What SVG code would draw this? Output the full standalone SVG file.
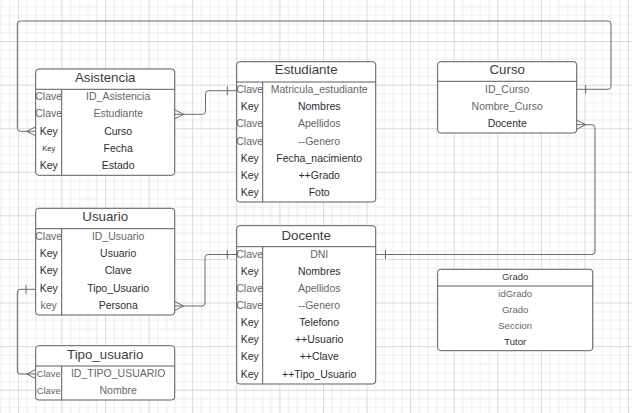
<svg xmlns="http://www.w3.org/2000/svg" width="632" height="413" viewBox="0 0 632 413">
<style>
.box{fill:#fff;stroke:#5c5c5c;stroke-width:1}
.div{stroke:#5c5c5c;stroke-width:1}
.t{font-family:"Liberation Sans",Arial,sans-serif;font-size:13.3px;fill:#3d3d3d;text-anchor:middle}
.r{font-family:"Liberation Sans",Arial,sans-serif;font-size:10.5px;text-anchor:middle}
.g{fill:#666}
.d{fill:#2e2e2e}
.gt{font-size:9.5px}
.conn{fill:none;stroke:#6a6a6a;stroke-width:1}
</style>
<defs>
<pattern id="grid" patternUnits="userSpaceOnUse" x="17.9" y="-2.5" width="43.58" height="43.58">
<path d="M9.22,0V43.58M17.93,0V43.58M26.65,0V43.58M35.36,0V43.58M0,9.22H43.58M0,17.93H43.58M0,26.65H43.58M0,35.36H43.58" stroke="#ececec" stroke-width="1"/>
<path d="M0.5,0V43.58M0,0.5H43.58" stroke="#d9d9d9" stroke-width="1"/>
</pattern>
</defs>
<rect width="632" height="413" fill="#fff"/>
<rect width="632" height="413" fill="url(#grid)"/>

<g id="connectors" class="conn">
<path d="M35.7,131.3 H20.3 Q17.3,131.3 17.3,128.3 V24 Q17.3,21 20.3,21 H608 Q611,21 611,24 V86.3 Q611,89.3 608,89.3 H576.7"/>
<path d="M26.7,131.3 L35.7,126.8 M26.7,131.3 L35.7,135.8 M585.7,85 V93.6"/>
<path d="M174.7,114.3 H202.5 Q205.5,114.3 205.5,111.3 V93.7 Q205.5,90.7 208.5,90.7 H236.7"/>
<path d="M183.7,114.3 L174.7,109.8 M183.7,114.3 L174.7,118.8 M227.3,86.2 V95.2"/>
<path d="M576.7,124.7 H592 Q595,124.7 595,127.7 V251.5 Q595,254.5 592,254.5 H375.7"/>
<path d="M585.7,124.7 L576.7,120.2 M585.7,124.7 L576.7,129.2 M385.5,250 V259"/>
<path d="M174.7,306 H202 Q205,306 205,303 V257.5 Q205,254.5 208,254.5 H236.7"/>
<path d="M183.7,306 L174.7,301.5 M183.7,306 L174.7,310.5 M227.3,250 V259"/>
<path d="M35.7,289.3 H20.3 Q17.3,289.3 17.3,292.3 V371 Q17.3,374 20.3,374 H35.7"/>
<path d="M26,284.8 V293.8 M26.7,374 L35.7,369.5 M26.7,374 L35.7,378.5"/>
</g>

<g id="asistencia">
<rect class="box" x="35.7" y="69" width="139" height="106.3" rx="3"/>
<path class="div" d="M35.7,89.3H174.7M61.7,89.3V175.3"/>
<text class="t" x="105.2" y="82.1">Asistencia</text>
<text class="r g" x="48.7" y="100.1">Clave</text><text class="r g" x="118.2" y="100.1">ID_Asistencia</text>
<text class="r g" x="48.7" y="117.3">Clave</text><text class="r g" x="118.2" y="117.3">Estudiante</text>
<text class="r d" x="48.7" y="134.5">Key</text><text class="r d" x="118.2" y="134.5">Curso</text>
<text class="r d" x="48.7" y="150.9" style="font-size:7.5px">Key</text><text class="r d" x="118.2" y="151.7">Fecha</text>
<text class="r d" x="48.7" y="168.9">Key</text><text class="r d" x="118.2" y="168.9">Estado</text>
</g>

<g id="estudiante">
<rect class="box" x="236.7" y="61.7" width="139" height="140.3" rx="3"/>
<path class="div" d="M236.7,82H375.7M262.7,82V202"/>
<text class="t" x="306.2" y="74.1">Estudiante</text>
<text class="r g" x="249.7" y="93.1">Clave</text><text class="r g" x="319.2" y="93.1">Matricula_estudiante</text>
<text class="r d" x="249.7" y="110.25">Key</text><text class="r d" x="319.2" y="110.25">Nombres</text>
<text class="r g" x="249.7" y="127.4">Clave</text><text class="r g" x="319.2" y="127.4">Apellidos</text>
<text class="r g" x="249.7" y="144.55">Clave</text><text class="r g" x="319.2" y="144.55">--Genero</text>
<text class="r d" x="249.7" y="161.7">Key</text><text class="r d" x="319.2" y="161.7">Fecha_nacimiento</text>
<text class="r d" x="249.7" y="178.85">Key</text><text class="r d" x="319.2" y="178.85">++Grado</text>
<text class="r d" x="249.7" y="196">Key</text><text class="r d" x="319.2" y="196">Foto</text>
</g>

<g id="curso">
<rect class="box" x="437.7" y="61.7" width="139" height="71.3" rx="3"/>
<path class="div" d="M437.7,81.3H576.7"/>
<text class="t" x="507.2" y="74.1">Curso</text>
<text class="r g" x="507.2" y="93.1">ID_Curso</text>
<text class="r g" x="507.2" y="110.1">Nombre_Curso</text>
<text class="r d" x="507.2" y="127.1">Docente</text>
</g>

<g id="usuario">
<rect class="box" x="35.7" y="208.3" width="139" height="106.7" rx="3"/>
<path class="div" d="M35.7,228.7H174.7M61.7,228.7V315"/>
<text class="t" x="105.2" y="220.8">Usuario</text>
<text class="r g" x="48.7" y="239.5">Clave</text><text class="r g" x="118.2" y="239.5">ID_Usuario</text>
<text class="r d" x="48.7" y="256.8">Key</text><text class="r d" x="118.2" y="256.8">Usuario</text>
<text class="r d" x="48.7" y="274.1">Key</text><text class="r d" x="118.2" y="274.1">Clave</text>
<text class="r d" x="48.7" y="291.6">Key</text><text class="r d" x="118.2" y="291.6">Tipo_Usuario</text>
<text class="r g" x="48.7" y="309">key</text><text class="r d" x="118.2" y="309">Persona</text>
</g>

<g id="tipo_usuario">
<rect class="box" x="35.7" y="345.7" width="139" height="54.3" rx="3"/>
<path class="div" d="M35.7,366H174.7M61.7,366V400"/>
<text class="t" x="105.2" y="359.1">Tipo_usuario</text>
<text class="r g" x="48.7" y="377.1" style="font-size:9.3px">Clave</text><text class="r g" x="118.2" y="377.1">ID_TIPO_USUARIO</text>
<text class="r g" x="48.7" y="394.1" style="font-size:9.3px">Clave</text><text class="r g" x="118.2" y="394.1">Nombre</text>
</g>

<g id="docente">
<rect class="box" x="236.7" y="225.7" width="139" height="158.3" rx="3"/>
<path class="div" d="M236.7,246.7H375.7M262.7,246.7V384"/>
<text class="t" x="306.2" y="239.8">Docente</text>
<text class="r g" x="249.7" y="257.5">Clave</text><text class="r g" x="319.2" y="257.5">DNI</text>
<text class="r d" x="249.7" y="274.65">Key</text><text class="r d" x="319.2" y="274.65">Nombres</text>
<text class="r g" x="249.7" y="291.8">Clave</text><text class="r g" x="319.2" y="291.8">Apellidos</text>
<text class="r g" x="249.7" y="308.95">Clave</text><text class="r g" x="319.2" y="308.95">--Genero</text>
<text class="r d" x="249.7" y="326.1">Key</text><text class="r d" x="319.2" y="326.1">Telefono</text>
<text class="r d" x="249.7" y="343.25">Key</text><text class="r d" x="319.2" y="343.25">++Usuario</text>
<text class="r d" x="249.7" y="360.4">Key</text><text class="r d" x="319.2" y="360.4">++Clave</text>
<text class="r d" x="249.7" y="377.55">Key</text><text class="r d" x="319.2" y="377.55">++Tipo_Usuario</text>
</g>

<g id="grado">
<rect class="box" x="437.7" y="269.3" width="155" height="81.4" rx="3"/>
<path class="div" d="M437.7,286H592.7"/>
<text class="t gt" x="515.2" y="279.7">Grado</text>
<text class="r g gt" x="515.2" y="296.7">idGrado</text>
<text class="r g gt" x="515.2" y="313.1">Grado</text>
<text class="r g gt" x="515.2" y="329.1">Seccion</text>
<text class="r d gt" x="515.2" y="344.7">Tutor</text>
</g>
</svg>
